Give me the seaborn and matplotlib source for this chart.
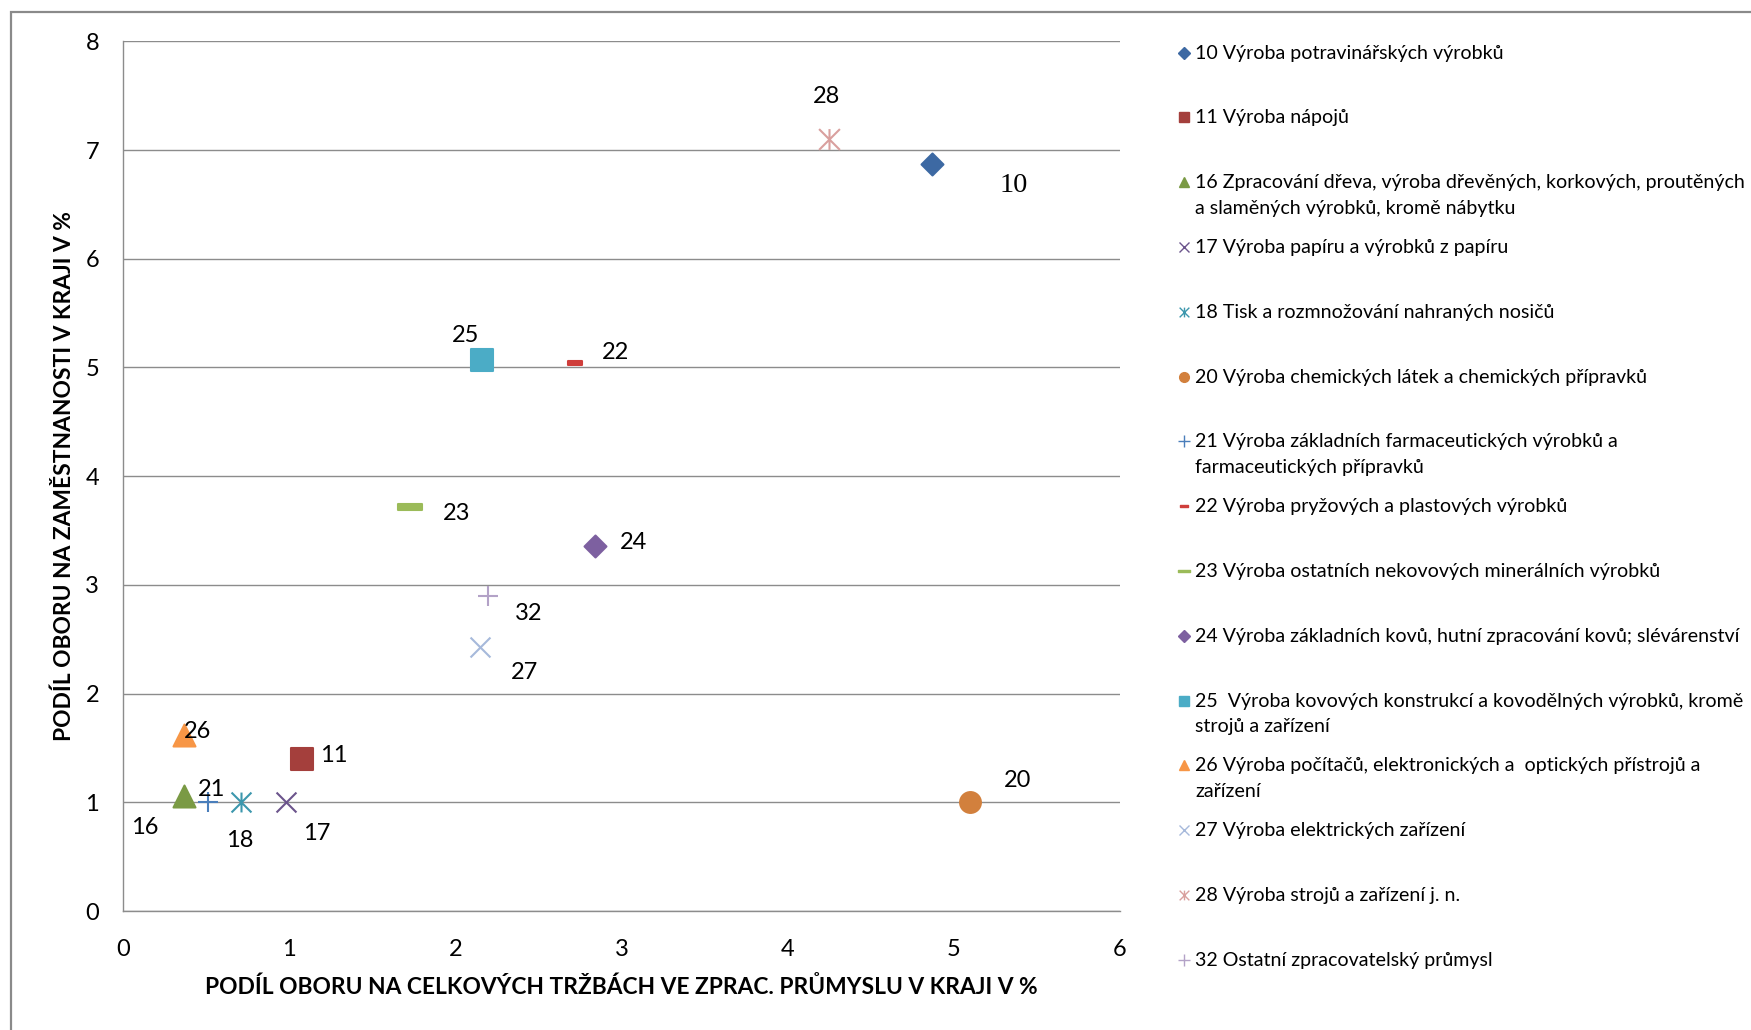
import matplotlib
matplotlib.use("Agg")
import matplotlib.pyplot as plt
import seaborn as sns
import pandas as pd
from matplotlib.path import Path
from matplotlib.lines import Line2D
from matplotlib.patches import Rectangle

# --- data -------------------------------------------------------------
codes = ["10", "11", "16", "17", "18", "20", "21", "22", "23", "24",
         "25", "26", "27", "28", "32"]

names = [
    "10 Výroba potravinářských výrobků",
    "11 Výroba nápojů",
    "16 Zpracování dřeva, výroba dřevěných, korkových, proutěných\na slaměných výrobků, kromě nábytku",
    "17 Výroba papíru a výrobků z papíru",
    "18 Tisk a rozmnožování nahraných nosičů",
    "20 Výroba chemických látek a chemických přípravků",
    "21 Výroba základních farmaceutických výrobků a\nfarmaceutických přípravků",
    "22 Výroba pryžových a plastových výrobků",
    "23 Výroba ostatních nekovových minerálních výrobků",
    "24 Výroba základních kovů, hutní zpracování kovů; slévárenství",
    "25  Výroba kovových konstrukcí a kovodělných výrobků, kromě\nstrojů a zařízení",
    "26 Výroba počítačů, elektronických a  optických přístrojů a\nzařízení",
    "27 Výroba elektrických zařízení",
    "28 Výroba strojů a zařízení j. n.",
    "32 Ostatní zpracovatelský průmysl",
]

# share of the branch in total manufacturing sales in the region (%)
sales_share = [4.87, 1.08, 0.37, 0.98, 0.71, 5.10, 0.51, 2.72, 1.73, 2.84,
               2.16, 0.37, 2.15, 4.25, 2.20]
# share of the branch in employment in the region (%)
employment_share = [6.87, 1.40, 1.06, 1.00, 1.00, 1.00, 1.00, 5.04, 3.72, 3.36,
                    5.07, 1.62, 2.43, 7.10, 2.90]

x_ticks = [0, 1, 2, 3, 4, 5, 6]
y_ticks = [0, 1, 2, 3, 4, 5, 6, 7, 8]

x_title = "PODÍL OBORU NA CELKOVÝCH TRŽBÁCH VE ZPRAC. PRŮMYSLU V KRAJI V %"
y_title = "PODÍL OBORU NA ZAMĚSTNANOSTI V KRAJI V %"

# --- styles -----------------------------------------------------------
M, L = Path.MOVETO, Path.LINETO
asterisk = Path([(-1, -1), (1, 1), (-1, 1), (1, -1), (0, -1), (0, 1)],
                [M, L, M, L, M, L])
dash_small = Path([(-1, -0.3), (1, -0.3), (1, 0.3), (-1, 0.3), (-1, -0.3)],
                  [M, L, L, L, Path.CLOSEPOLY])
dash_wide = Path([(-1, -0.25), (1, -0.25), (1, 0.25), (-1, 0.25), (-1, -0.25)],
                 [M, L, L, L, Path.CLOSEPOLY])

colors = ["#3D69A3", "#A43F3C", "#7A9A44", "#6B548C", "#3C97AD", "#D2803D",
          "#4A7EBB", "#CF3E3B", "#9BBB59", "#7D60A0", "#4BACC6", "#F79646",
          "#A6B9DB", "#D9A09E", "#B3A2C7"]
markers = ["D", "s", "^", "x", asterisk, "o", "+", dash_small, dash_wide, "D",
           "s", "^", "x", asterisk, "+"]
sizes = [125, 250, 250, 205, 205, 225, 205, 90, 275, 125,
         250, 250, 205, 225, 205]
# label offsets in points (dx, dy)
label_offsets = [(58.8, -15.5), (23, 2.4), (-28.3, -23.1), (22.3, -22.3),
                 (-0.7, -27.8), (33.6, 15.4), (2.7, 8.9), (29.5, 7.4),
                 (33.1, -4.8), (28.1, 2.4), (-12, 17.3), (9.6, 2.6),
                 (31.9, -18.5), (-1.9, 30.7), (29.3, -12.9)]

sns.set_theme(style="white")
plt.rcParams["font.family"] = ["Lato", "DejaVu Sans"]

W, H = 1751, 1030
fig = plt.figure(figsize=(W / 100, H / 100), dpi=100)
fig.patch.set_facecolor("white")

# outer chart frame
fig.add_artist(Rectangle((11 / W, -0.05), 1.1, (H - 12) / H + 0.05,
                         transform=fig.transFigure, fill=False,
                         edgecolor="#8a8a8a", linewidth=1.6))

left, right, bottom, top = 122.8, 1120.0, 911.0, 41.3
ax = fig.add_axes([left / W, (H - bottom) / H, (right - left) / W, (bottom - top) / H])

df = pd.DataFrame({"code": codes, "name": names,
                   "x": sales_share, "y": employment_share})

for i, row in df.iterrows():
    sns.scatterplot(data=df.iloc[[i]], x="x", y="y", ax=ax,
                    marker=markers[i], s=sizes[i], color=colors[i],
                    edgecolor="face", linewidth=1.5, legend=False,
                    clip_on=False, zorder=3)
    if row["code"] == "10":
        fam, fs = ["Liberation Serif"], 20.5
    else:
        fam, fs = ["Lato", "DejaVu Sans"], 17
    ax.annotate(row["code"], (row["x"], row["y"]), xytext=label_offsets[i],
                textcoords="offset points", ha="center", va="center",
                fontsize=fs, family=fam, color="black", zorder=4)

ax.set_xlim(0, 6)
ax.set_ylim(0, 8)
ax.set_xticks(x_ticks)
ax.set_yticks(y_ticks)
ax.set_xticklabels([str(t) for t in x_ticks])
ax.set_yticklabels([str(t) for t in y_ticks])
ax.tick_params(axis="both", length=0, labelsize=17, colors="black")
ax.tick_params(axis="x", pad=20)
ax.tick_params(axis="y", pad=17)

ax.grid(axis="y", color="#8c8c8c", linewidth=1.0)
ax.grid(axis="x", visible=False)
ax.set_axisbelow(True)
for side in ["top", "right"]:
    ax.spines[side].set_visible(False)
for side in ["left", "bottom"]:
    ax.spines[side].set_color("#8c8c8c")
    ax.spines[side].set_linewidth(1.0)

ax.set_xlabel(x_title, fontsize=16.4, fontweight="bold", va="center", color="black")
ax.set_ylabel(y_title, fontsize=16.4, fontweight="bold", va="center", color="black")
ax.xaxis.set_label_coords(0.5, (bottom - 987) / (bottom - top))
ax.yaxis.set_label_coords((64 - left) / (right - left), 0.5)

# legend, one slot per branch
leg_x_marker, leg_x_text = 1184, 1195
leg_y0, leg_step, line_step = 52.5, 64.8, 25.7
leg_sizes = [6, 7, 7, 7, 7, 7, 8, 6, 8, 6, 7, 7, 7, 7, 8]
for i, name in enumerate(names):
    yc = leg_y0 + i * leg_step
    fig.add_artist(Line2D([leg_x_marker / W], [1 - yc / H], transform=fig.transFigure,
                          marker=markers[i], markersize=leg_sizes[i], color=colors[i],
                          markeredgecolor=colors[i], markeredgewidth=1.0, linestyle="none"))
    for k, line in enumerate(name.split("\n")):
        fig.text(leg_x_text / W, 1 - (yc + k * line_step + 6) / H, line,
                 ha="left", va="baseline", fontsize=14.15, color="black")

fig.savefig("out.png", dpi=100, facecolor="white")
